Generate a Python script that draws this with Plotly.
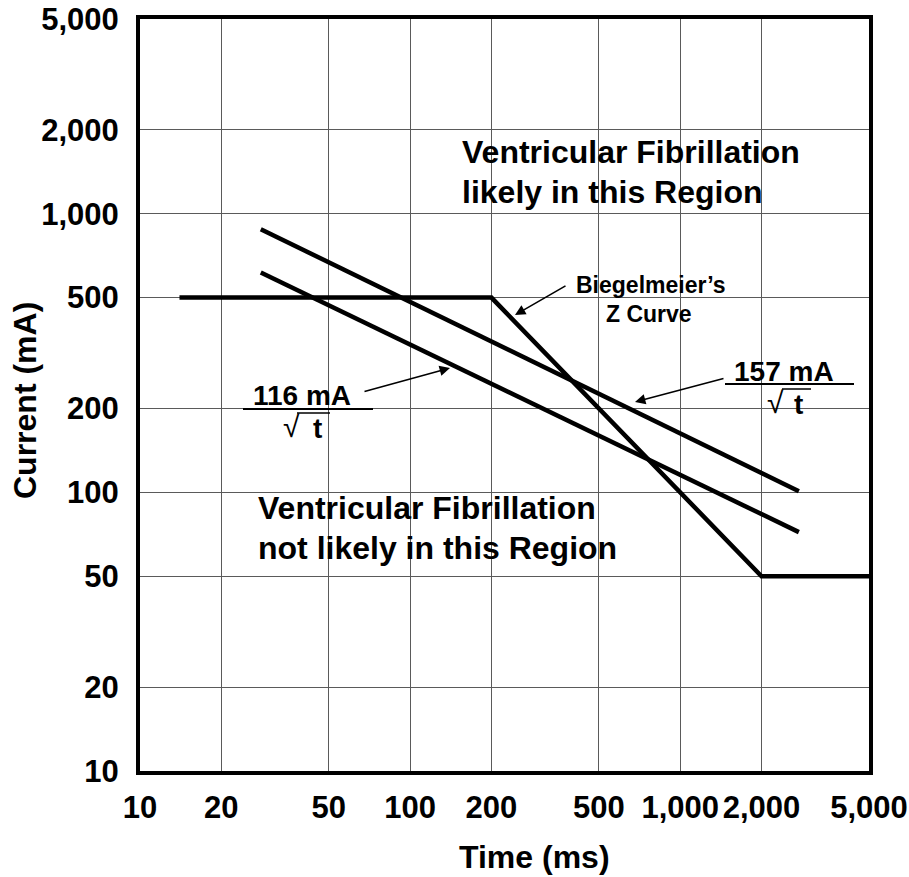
import plotly.graph_objects as go

# ---- data ----
x_ticks = [10, 20, 50, 100, 200, 500, 1000, 2000, 5000]
x_ticktext = ["10", "20", "50", "100", "200", "500", "1,000", "2,000", "5,000"]
y_ticks = [10, 20, 50, 100, 200, 500, 1000, 2000, 5000]
y_ticktext = ["10", "20", "50", "100", "200", "500", "1,000", "2,000", "5,000"]

z_curve_t = [14, 200, 2000, 5000]
z_curve_i = [500, 500, 50, 50]

line157_t = [28, 2750]
line157_i = [880, 101]

line116_t = [28, 2750]
line116_i = [615, 72]

# ---- layout geometry ----
W, H = 909, 877
L, R, T, B = 140, 869, 19, 771
FONT = "Liberation Sans, Arial, sans-serif"


def px(x):
    return (x - L) / (R - L)


def py(y):
    return (B - y) / (B - T)


fig = go.Figure()
for t, i in [(z_curve_t, z_curve_i), (line157_t, line157_i), (line116_t, line116_i)]:
    fig.add_trace(go.Scatter(x=t, y=i, mode="lines",
                             line=dict(color="black", width=4.5),
                             showlegend=False, hoverinfo="skip"))

annotations = []


def text(x, y, s, size, bold=True, xanchor="center", yanchor="middle", angle=0):
    annotations.append(dict(
        x=px(x), y=py(y), xref="paper", yref="paper", text=s, showarrow=False,
        xanchor=xanchor, yanchor=yanchor, textangle=angle,
        font=dict(family=FONT, size=size, color="black",
                  weight="bold" if bold else "normal")))


def arrow(tail, head):
    annotations.append(dict(
        x=px(head[0]), y=py(head[1]), xref="paper", yref="paper",
        ax=tail[0] - head[0], ay=tail[1] - head[1], axref="pixel", ayref="pixel",
        text="", showarrow=True, arrowhead=2, arrowsize=1.3, arrowwidth=1.6,
        arrowcolor="black", standoff=0, startstandoff=0))


# region texts
text(460, 152, "Ventricular Fibrillation", 32, xanchor="left")
text(460, 192, "likely in this Region", 32, xanchor="left")
text(256, 508, "Ventricular Fibrillation", 32, xanchor="left")
text(256, 548, "not likely in this Region", 32, xanchor="left")

# Biegelmeier label
text(651, 285, "Biegelmeier\u2019s", 23)
text(649, 314, "Z Curve", 23)
arrow((567, 285), (515, 315))

# 116 mA / sqrt(t)
text(302, 395, "116 mA", 28)
text(291, 426, "\u221a", 30, bold=False)
text(317, 428, "t", 28)
arrow((363, 392), (450, 368))

# 157 mA / sqrt(t)
text(784, 371, "157 mA", 28)
text(775, 402, "\u221a", 30, bold=False)
text(798, 404, "t", 28)
arrow((725, 378), (635, 402))

# axis titles
text(534, 857, "Time (ms)", 32)
text(25, 401, "Current (mA)", 32, angle=-90)

shapes = []


def hline(x0, x1, y, w):
    shapes.append(dict(type="line", xref="paper", yref="paper",
                       x0=px(x0), x1=px(x1), y0=py(y), y1=py(y),
                       line=dict(color="black", width=w)))


hline(243, 373, 409, 2)   # fraction bar 116
hline(297, 330, 413, 1.5)  # vinculum 116
hline(725, 854, 384, 2)   # fraction bar 157
hline(782, 811, 389, 1.5)  # vinculum 157

axis_common = dict(
    type="log", showgrid=True, gridcolor="#5a5a5a", gridwidth=1,
    showline=True, linecolor="black", linewidth=4, mirror=True,
    ticks="outside", tickcolor="rgba(0,0,0,0)", tickangle=0,
    zeroline=False, fixedrange=True, automargin=False,
)

fig.update_layout(
    width=W, height=H, autosize=False,
    margin=dict(l=L, r=W - R, t=T, b=H - B, pad=0),
    paper_bgcolor="white", plot_bgcolor="white",
    xaxis=dict(axis_common, range=[1, 3.69897], tickvals=x_ticks, ticktext=x_ticktext,
               ticklen=6,
               tickfont=dict(family=FONT, size=31, color="black", weight="bold")),
    yaxis=dict(axis_common, range=[1, 3.69897], tickvals=y_ticks, ticktext=y_ticktext,
               ticklen=11,
               tickfont=dict(family=FONT, size=31, color="black", weight="bold")),
    annotations=annotations, shapes=shapes,
    showlegend=False,
)

fig.write_html("out.html")
